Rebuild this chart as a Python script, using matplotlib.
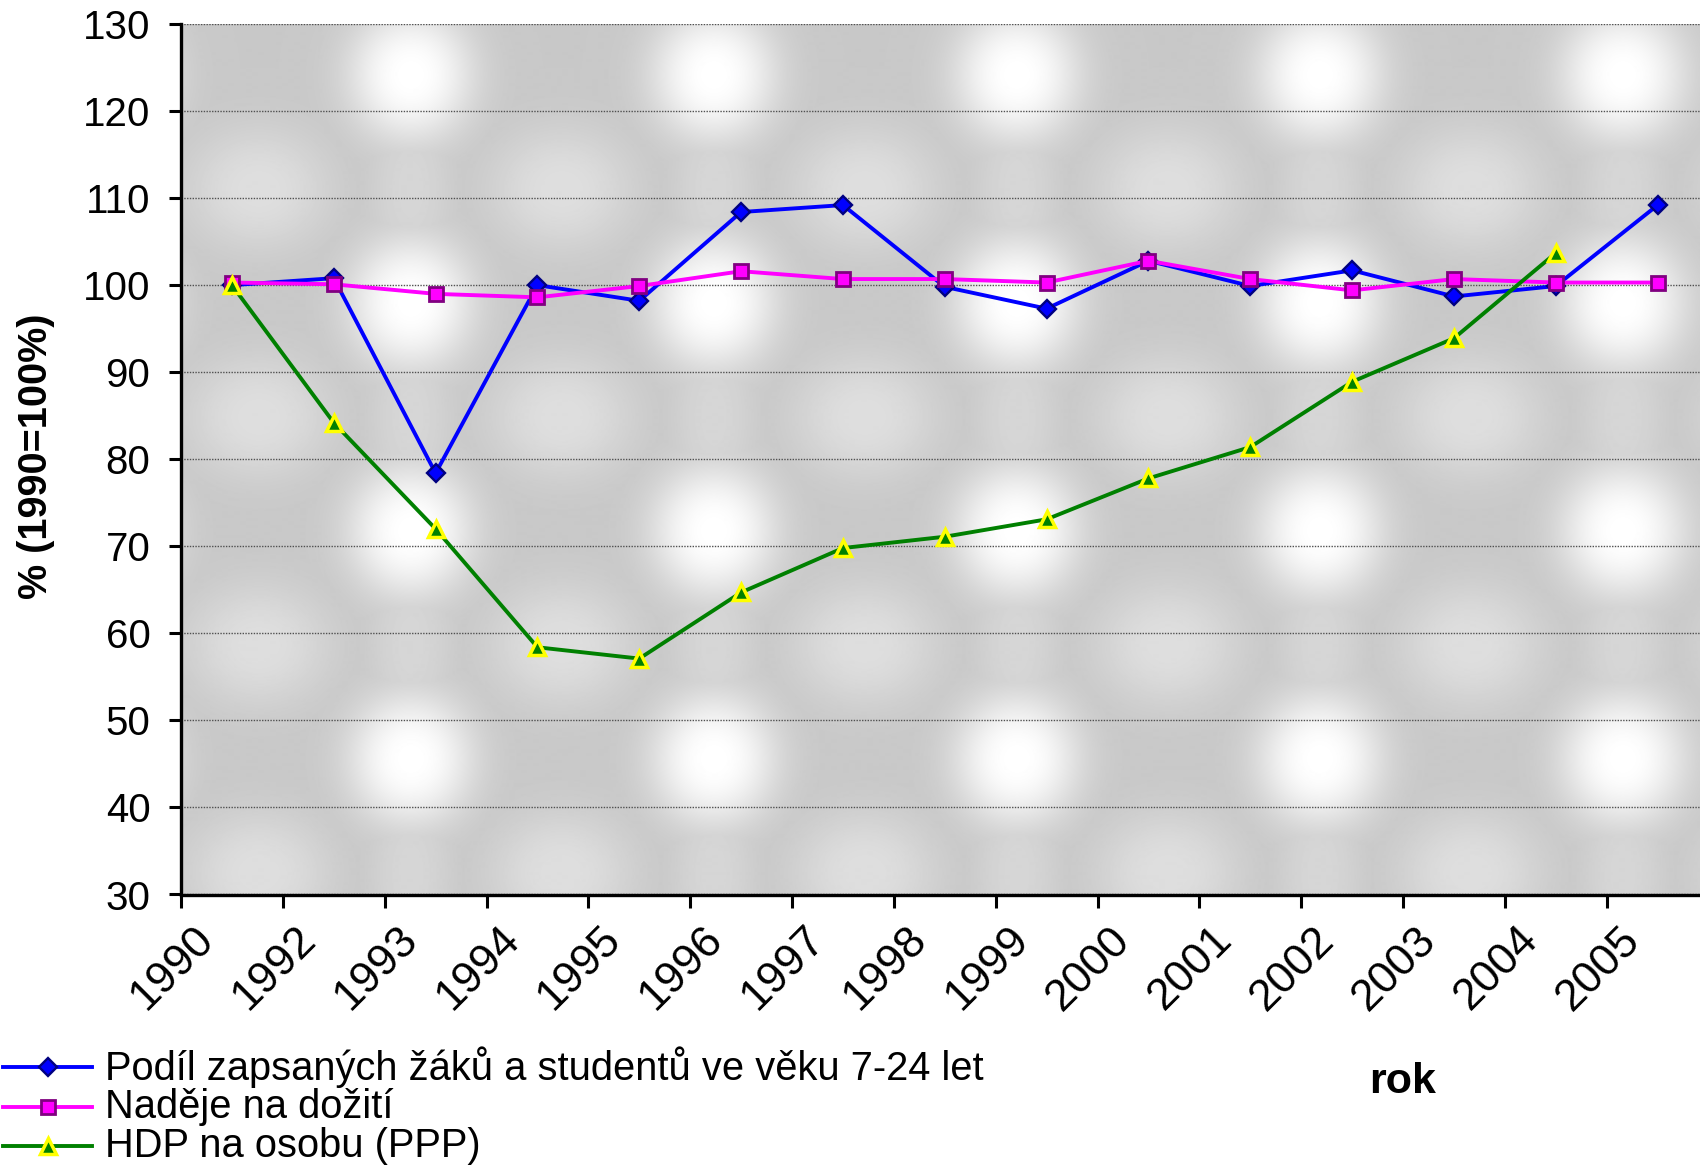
import numpy as np
import matplotlib
matplotlib.use("Agg")
import matplotlib.pyplot as plt
from matplotlib.lines import Line2D

plt.rcParams['font.family'] = ['Liberation Sans', 'DejaVu Sans']

# ---------------- data ----------------
years = ['1990', '1992', '1993', '1994', '1995', '1996', '1997', '1998',
         '1999', '2000', '2001', '2002', '2003', '2004', '2005']
podil = [100.0, 100.8, 78.4, 100.0, 98.2, 108.4, 109.2, 99.8,
         97.3, 102.8, 99.9, 101.7, 98.7, 99.9, 109.2]
nadeje = [100.3, 100.1, 99.0, 98.6, 99.9, 101.6, 100.7, 100.7,
          100.3, 102.8, 100.7, 99.4, 100.7, 100.3, 100.3]
hdp = [100.0, 84.2, 72.0, 58.4, 57.1, 64.7, 69.8, 71.1,
       73.1, 77.8, 81.4, 88.9, 93.9, 103.7, np.nan]
yticks = [30, 40, 50, 60, 70, 80, 90, 100, 110, 120, 130]
series_labels = ['Podíl zapsaných žáků a studentů ve věku 7-24 let',
                 'Naděje na dožití',
                 'HDP na osobu (PPP)']
ylabel = '% (1990=100%)'
xlabel = 'rok'

# ---------------- figure ----------------
W, H = 1700, 1165
fig = plt.figure(figsize=(W / 100, H / 100), dpi=100)
fig.patch.set_facecolor('white')

ax_l, ax_t, ax_b = 181, 24, 894.5
cat_w = 101.84
n = len(years)
ax = fig.add_axes([ax_l / W, 1 - ax_b / H, n * cat_w / W, (ax_b - ax_t) / H])

# textured background (soft white blobs on grey)
pw, ph = int(n * cat_w), int(ax_b - ax_t)
xx, yy = np.meshgrid(np.arange(pw), np.arange(ph))
base = 0.785
tex = np.zeros((ph, pw))
for cx in np.arange(-74, pw + 310, 303):
    for cy in np.arange(51, ph + 230, 228):
        r = (((xx - cx) / 62.0) ** 2 + ((yy - cy) / 66.0) ** 2)
        tex = np.maximum(tex, np.exp(-r ** 1.3))
        r2 = (((xx - cx - 151) / 70.0) ** 2 + ((yy - cy - 114) / 60.0) ** 2)
        tex = np.maximum(tex, 0.40 * np.exp(-r2 ** 1.3))
        r3 = (((xx - cx) / 40.0) ** 2 + ((yy - cy - 114) / 90.0) ** 2)
        tex = np.maximum(tex, 0.25 * np.exp(-r3 ** 1.3))
img = base + (1.0 - base) * tex
ax.imshow(img, extent=(0, n, 30, 130), aspect='auto', cmap='gray',
          vmin=0, vmax=1, origin='upper', zorder=0, interpolation='bilinear')

styles = [dict(color='#0000FF', marker='D', ms=9.5, mfc='#0000FF', mec='#000080', mew=1.7),
          dict(color='#FF00FF', marker='s', ms=10, mfc='#FF00FF', mec='#800080', mew=2.0),
          dict(color='#008000', marker='^', ms=12, mfc='#008000', mec='#FFFF00', mew=2.5)]

x = np.arange(n) + 0.5
for z, (vals, st) in enumerate(zip([podil, nadeje, hdp], styles)):
    ax.plot(x, vals, lw=2.8, zorder=3 + z, clip_on=False, **st)

ax.set_xlim(0, n)
ax.set_ylim(30, 130)

# axes styling
for s in ['top', 'right']:
    ax.spines[s].set_visible(False)
for s in ['left', 'bottom']:
    ax.spines[s].set_linewidth(2.4)
    ax.spines[s].set_color('black')
    ax.spines[s].set_zorder(6)

ax.set_yticks(yticks)
ax.set_yticklabels([str(v) for v in yticks], fontsize=29)
ax.tick_params(axis='y', direction='out', length=9, width=2.2, pad=13)
ax.yaxis.grid(True, linestyle=(0, (1, 1)), color='#505050', lw=1.0)
ax.set_axisbelow(False)
for gl in ax.get_ygridlines():
    gl.set_zorder(1)

ax.set_xticks(np.arange(n))
ax.set_xticklabels([])
ax.tick_params(axis='x', which='major', direction='out', length=9, width=2.2)
ax.set_xticks(np.arange(n) + 0.26, minor=True)
ax.set_xticklabels(years, minor=True, fontsize=32, rotation=45,
                   ha='right', va='center', rotation_mode='anchor')
ax.tick_params(axis='x', which='minor', length=0, pad=28)

fig.text(36 / W, 1 - 456 / H, ylabel, rotation=90, ha='center', va='center',
         fontsize=28.5, fontweight='bold')
fig.text(1403 / W, 1 - 1082 / H, xlabel, ha='center', va='center',
         fontsize=31, fontweight='bold')

# legend (manual)
leg_rows = [1067, 1107, 1146]
for yrow, lab, st in zip(leg_rows, series_labels, styles):
    yf = 1 - yrow / H
    fig.add_artist(Line2D([3 / W, 92 / W], [yf, yf], transform=fig.transFigure,
                          color=st['color'], lw=2.8))
    fig.add_artist(Line2D([48 / W], [yf], transform=fig.transFigure,
                          linestyle='none', marker=st['marker'], ms=st['ms'],
                          mfc=st['mfc'], mec=st['mec'], mew=st['mew']))
    fig.text(105 / W, yf, lab, ha='left', va='center', fontsize=28.7)

fig.savefig('out.png', dpi=100, facecolor='white')
